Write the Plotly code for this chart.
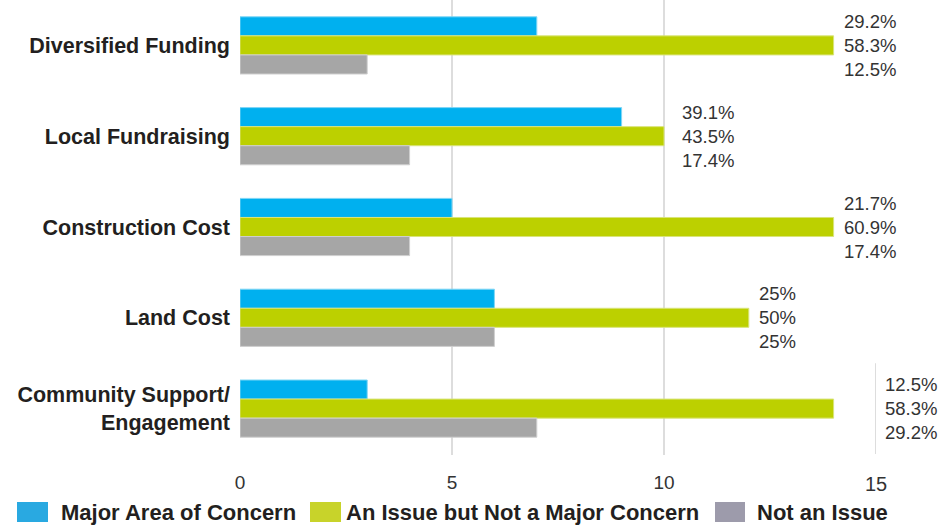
import plotly.graph_objects as go

# ---------------- data ----------------
categories = ["Diversified Funding", "Local Fundraising", "Construction Cost",
              "Land Cost", "Community Support/<br>Engagement"]
series_names = ["Major Area of Concern", "An Issue but Not a Major Concern", "Not an Issue"]
major = [7, 9, 5, 6, 3]
issue = [14, 10, 14, 12, 14]
not_issue = [3, 4, 4, 6, 7]
pct_major = ["29.2%", "39.1%", "21.7%", "25%", "12.5%"]
pct_issue = ["58.3%", "43.5%", "60.9%", "50%", "58.3%"]
pct_not = ["12.5%", "17.4%", "17.4%", "25%", "29.2%"]
x_ticks = [0, 5, 10, 15]

# ---------------- styles ----------------
bar_colors = ["#00B0EF", "#BCD000", "#A6A6A6"]
edge_colors = ["#7FD6F5", "#D9E47A", "#CFCFCF"]
legend_colors = ["#29A9E1", "#C8D32A", "#9D9BAB"]
FONT = "Liberation Sans, Arial, sans-serif"
W, H = 940, 525
ML, MR, MT, MB = 240, 64, 0, 70
PW, PH = W - ML - MR, H - MT - MB


def px2paper_x(px):
    return (px - ML) / PW


def px2paper_y(py):
    return (H - MB - py) / PH


fig = go.Figure()
for name, vals, col, edge in zip(series_names, [major, issue, not_issue], bar_colors, edge_colors):
    fig.add_trace(go.Bar(
        y=categories, x=vals, name=name, orientation="h",
        marker=dict(color=col, line=dict(color=edge, width=1)),
        showlegend=False, hoverinfo="x+name",
    ))

# percentage labels, right of the longest bar of each group
label_shift = [8, 16, 8, 8, 49]
for i, cat in enumerate(categories):
    mx = max(major[i], issue[i], not_issue[i])
    fig.add_annotation(
        x=mx, y=cat, xref="x", yref="y", xanchor="left", yanchor="middle",
        xshift=label_shift[i], showarrow=False, align="left",
        text=f"{pct_major[i]}<br>{pct_issue[i]}<br>{pct_not[i]}",
        font=dict(family=FONT, size=18.5, color="#333333"),
    )

# partial grid line at 15 (only visible beside the last group)
fig.add_shape(type="line", xref="x", yref="y", x0=15, x1=15,
              y0=len(categories) - 1.5, y1=len(categories) - 0.5,
              line=dict(color="#DDDDDD", width=2), layer="below")

# manual legend
legend_items = [
    (17, 48, 59, series_names[0], legend_colors[0]),
    (310, 341, 344, series_names[1], legend_colors[1]),
    (715, 745, 755, series_names[2], legend_colors[2]),
]
for x0, x1, tx, name, col in legend_items:
    fig.add_shape(type="rect", xref="paper", yref="paper",
                  x0=px2paper_x(x0), x1=px2paper_x(x1),
                  y0=px2paper_y(522), y1=px2paper_y(502),
                  fillcolor=col, line=dict(width=0))
    fig.add_annotation(x=px2paper_x(tx), y=px2paper_y(512), xref="paper", yref="paper",
                       xanchor="left", yanchor="middle", showarrow=False, text=f"<b>{name}</b>",
                       font=dict(family=FONT, size=22, color="#231F20"))

fig.update_layout(
    width=W, height=H,
    margin=dict(l=ML, r=MR, t=MT, b=MB, pad=0),
    paper_bgcolor="white", plot_bgcolor="white",
    barmode="group", bargap=0.37, bargroupgap=0.0,
    showlegend=False,
    font=dict(family=FONT, color="#231F20"),
    xaxis=dict(range=[0, 15], tickvals=x_ticks[:3], ticktext=[str(v) for v in x_ticks[:3]],
               showgrid=True, gridcolor="#DDDDDD", gridwidth=2,
               zeroline=False, showline=False, ticks="", ticklabelstandoff=14,
               tickfont=dict(family=FONT, size=19, color="#333333"), fixedrange=True),
    yaxis=dict(autorange="reversed", showgrid=False, zeroline=False, showline=False,
               ticks="", ticklabelstandoff=9,
               tickfont=dict(family=FONT, size=21.5, color="#231F20"), fixedrange=True),
)

# tick label "15" (no full grid line there)
fig.add_annotation(x=15, y=px2paper_y(484), xref="x", yref="paper", showarrow=False,
                   xanchor="center", yanchor="middle", text=str(x_ticks[3]),
                   font=dict(family=FONT, size=20, color="#333333"))

# bold category labels
fig.update_yaxes(ticktext=[f"<b>{c}</b>" for c in categories], tickvals=categories)

fig.write_html("out.html", config={"displayModeBar": False},
               post_script="document.body.style.margin='0';document.body.style.overflow='hidden';")
